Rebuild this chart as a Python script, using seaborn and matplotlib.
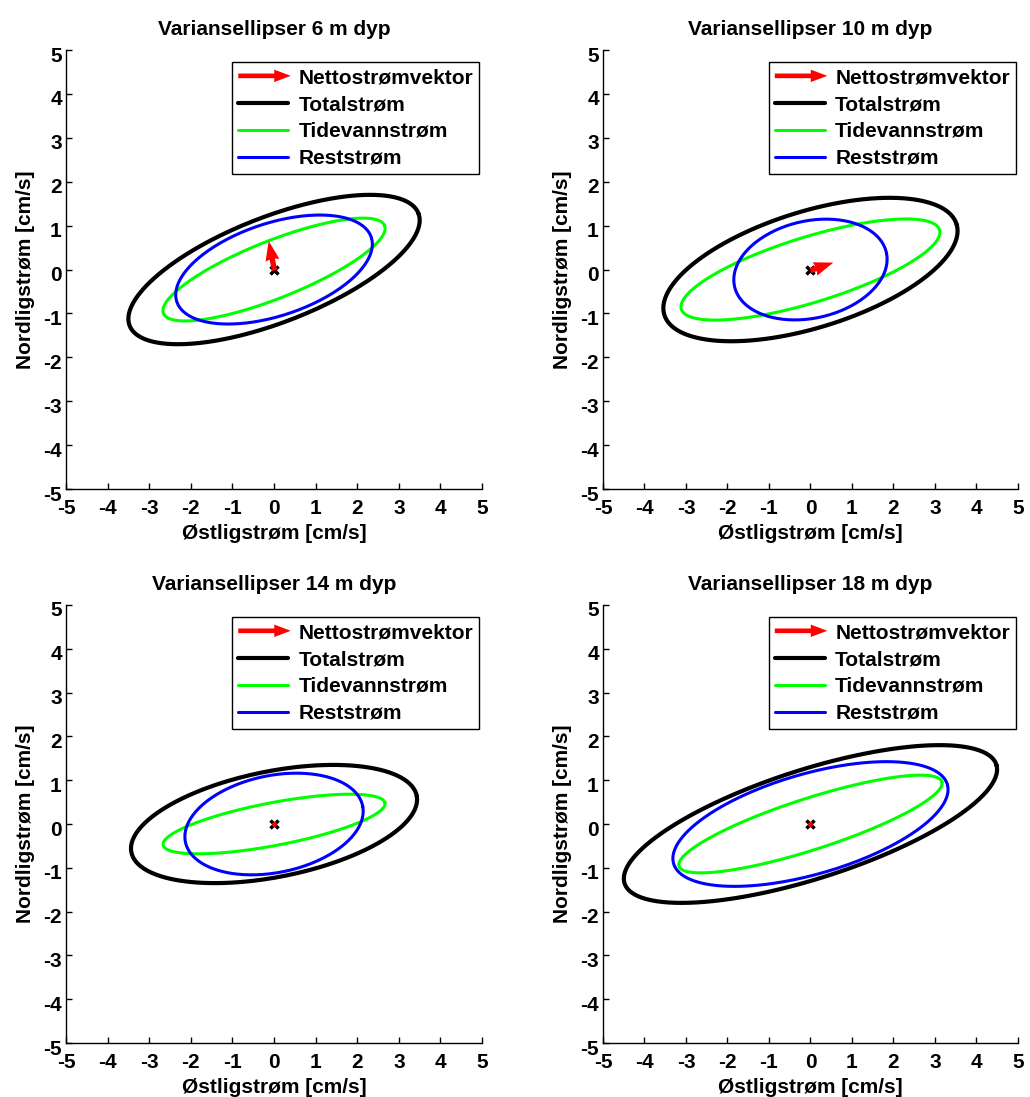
import numpy as np
import pandas as pd
import matplotlib
matplotlib.use("Agg")
import matplotlib.pyplot as plt
import matplotlib.transforms as mtransforms
import seaborn as sns
from matplotlib.patches import FancyArrow
from matplotlib.legend_handler import HandlerPatch
from matplotlib.lines import Line2D

# Depths of the current meters [m]
depths = [6, 10, 14, 18]

# Variance ellipses: semi-major axis, semi-minor axis [cm/s], orientation [deg from east]
total_a = [3.70, 3.67, 3.49, 4.68]
total_b = [1.21, 1.33, 1.21, 1.25]
total_ang = [20.0, 16.1, 10.5, 16.7]

tide_a = [2.84, 3.24, 2.71, 3.31]
tide_b = [0.66, 0.75, 0.49, 0.59]
tide_ang = [20.5, 16.1, 10.2, 16.9]

resid_a = [2.45, 1.87, 2.17, 3.42]
resid_b = [1.06, 1.11, 1.11, 1.15]
resid_ang = [17.0, 11.2, 10.5, 15.1]

# Net current vector [cm/s]
net_u = [-0.14, 0.55, 0.00, -0.08]
net_v = [0.67, 0.18, -0.10, 0.05]

ticks = [-5, -4, -3, -2, -1, 0, 1, 2, 3, 4, 5]

sns.set_theme(style="ticks")
plt.rcParams["font.family"] = ["Liberation Sans", "DejaVu Sans"]
plt.rcParams["font.weight"] = "bold"
plt.rcParams["axes.labelweight"] = "bold"
plt.rcParams["axes.titleweight"] = "bold"
plt.rcParams["axes.unicode_minus"] = False
plt.rcParams["xtick.direction"] = "in"
plt.rcParams["ytick.direction"] = "in"
plt.rcParams["text.color"] = "black"
plt.rcParams["axes.labelcolor"] = "black"
plt.rcParams["axes.titlecolor"] = "black"
plt.rcParams["xtick.color"] = "black"
plt.rcParams["ytick.color"] = "black"
plt.rcParams["legend.labelcolor"] = "black"


def ellipse(a, b, ang_deg, n=241):
    t = np.linspace(0, 2 * np.pi, n)
    th = np.deg2rad(ang_deg)
    x = a * np.cos(t) * np.cos(th) - b * np.sin(t) * np.sin(th)
    y = a * np.cos(t) * np.sin(th) + b * np.sin(t) * np.cos(th)
    return pd.DataFrame({"x": x, "y": y, "order": np.arange(n)})


class ArrowHandler(HandlerPatch):
    def create_artists(self, legend, orig_handle, xdescent, ydescent,
                       width, height, fontsize, trans):
        yc = height / 2 - ydescent
        arr = FancyArrow(-xdescent, yc, width * 1.05, 0, width=height * 0.32,
                         head_width=height * 0.85, head_length=width * 0.33,
                         length_includes_head=True, color="red", lw=0)
        arr.set_transform(trans)
        return [arr]


fig = plt.figure(figsize=(10.30, 10.97), dpi=100)
positions = [
    [0.0641, 0.5542, 0.4039, 0.4002],
    [0.5854, 0.5542, 0.4029, 0.4002],
    [0.0641, 0.0492, 0.4039, 0.3993],
    [0.5854, 0.0492, 0.4029, 0.3993],
]
ylab_shift = mtransforms.ScaledTranslation(0, -4 / 100, fig.dpi_scale_trans)

for i, d in enumerate(depths):
    ax = fig.add_axes(positions[i])
    sns.lineplot(data=ellipse(total_a[i], total_b[i], total_ang[i]), x="x", y="y",
                 sort=False, estimator=None, color="black", lw=3.0, ax=ax)
    sns.lineplot(data=ellipse(tide_a[i], tide_b[i], tide_ang[i]), x="x", y="y",
                 sort=False, estimator=None, color="#00ff00", lw=2.2, ax=ax)
    sns.lineplot(data=ellipse(resid_a[i], resid_b[i], resid_ang[i]), x="x", y="y",
                 sort=False, estimator=None, color="#0000ff", lw=2.2, ax=ax)
    ax.plot([0], [0], marker="x", color="black", ms=6, mew=2.5, ls="none")
    ax.quiver([0], [0], [net_u[i]], [net_v[i]], angles="xy", scale_units="xy",
              scale=1, color="red", width=0.013, headwidth=2.6, headlength=3.6,
              headaxislength=3.4, zorder=5)

    ax.set_xlim(-5, 5)
    ax.set_ylim(-5, 5)
    ax.set_xticks(ticks)
    ax.set_yticks(ticks)
    ax.tick_params(labelsize=15, length=4, width=1, colors="black")
    ax.tick_params(axis="x", pad=7.5)
    ax.tick_params(axis="y", pad=3)
    for lab in ax.get_xticklabels() + ax.get_yticklabels():
        lab.set_fontweight("bold")
    for lab in ax.get_yticklabels():
        lab.set_transform(lab.get_transform() + ylab_shift)
    ax.set_xlabel("Østligstrøm [cm/s]", fontsize=15, labelpad=4, color="black")
    ax.set_ylabel("Nordligstrøm [cm/s]", fontsize=15, labelpad=6, color="black")
    ax.set_title(f"Variansellipser {d} m dyp", fontsize=15, pad=11, color="black")
    for s in ["top", "right"]:
        ax.spines[s].set_visible(False)
    for s in ["left", "bottom"]:
        ax.spines[s].set_linewidth(1.0)
        ax.spines[s].set_color("black")

    handles = [
        FancyArrow(0, 0, 1, 0, color="red"),
        Line2D([], [], color="black", lw=3.0),
        Line2D([], [], color="#00ff00", lw=2.2),
        Line2D([], [], color="#0000ff", lw=2.2),
    ]
    labels = ["Nettostrømvektor", "Totalstrøm", "Tidevannstrøm", "Reststrøm"]
    leg = ax.legend(handles, labels, handler_map={FancyArrow: ArrowHandler()},
                    loc="upper left", bbox_to_anchor=(0.40, 0.972),
                    frameon=True, fancybox=False, shadow=False,
                    handlelength=2.4, handletextpad=0.5, labelspacing=0.38,
                    borderpad=0.28, borderaxespad=0, labelcolor="black",
                    prop={"weight": "bold", "size": 15})
    leg.get_frame().set_edgecolor("black")
    leg.get_frame().set_linewidth(1.0)
    leg.get_frame().set_alpha(1)

fig.savefig("out.png", dpi=100, facecolor="white")
